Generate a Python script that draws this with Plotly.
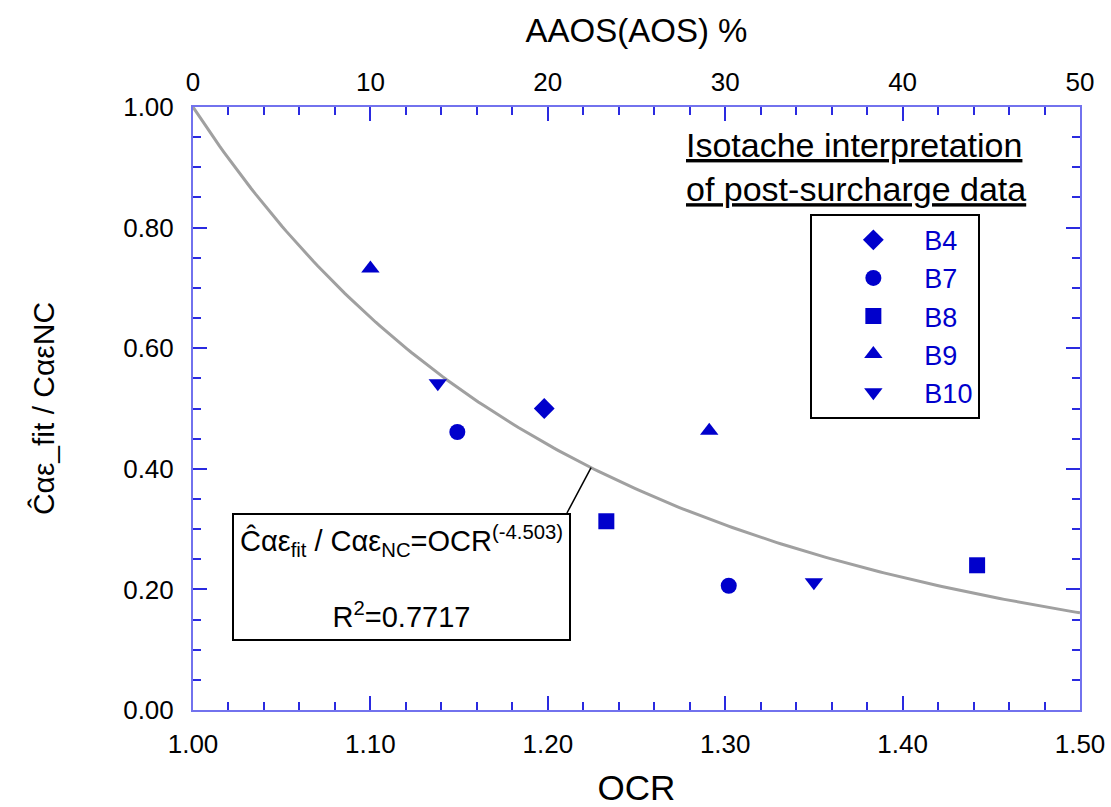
import numpy as np
import plotly.graph_objects as go

# ---- data ----
series_names = ["B4", "B7", "B8", "B9", "B10"]
series_symbols = ["diamond", "circle", "square", "triangle-up", "triangle-down"]
ocr_B4 = [1.198]
cae_B4 = [0.500]
ocr_B7 = [1.149, 1.302]
cae_B7 = [0.461, 0.206]
ocr_B8 = [1.233, 1.442]
cae_B8 = [0.313, 0.240]
ocr_B9 = [1.100, 1.291]
cae_B9 = [0.732, 0.463]
ocr_B10 = [1.138, 1.350]
cae_B10 = [0.542, 0.212]
fit_exponent = -4.503
r_squared = 0.7717
ocr_range = [1.0, 1.5]
aaos_range = [0, 50]

series_x = [ocr_B4, ocr_B7, ocr_B8, ocr_B9, ocr_B10]
series_y = [cae_B4, cae_B7, cae_B8, cae_B9, cae_B10]

BLUE = "#0000cc"
AXBLUE = "#7272ee"
TICKBLUE = "#2a2ae0"
FONT = "Liberation Sans"

fig = go.Figure()

# fitted power-law curve
fit_x = np.linspace(ocr_range[0], ocr_range[1], 200)
fit_y = fit_x ** fit_exponent
fig.add_trace(go.Scatter(x=fit_x, y=fit_y, mode="lines",
                         line=dict(color="#a0a0a0", width=3),
                         showlegend=False, hoverinfo="skip"))

for name, sym, xs, ys in zip(series_names, series_symbols, series_x, series_y):
    fig.add_trace(go.Scatter(x=xs, y=ys, mode="markers", name=name,
                             marker=dict(symbol=sym, size=16, color=BLUE,
                                         line=dict(width=0))))

# invisible trace for the top axis
fig.add_trace(go.Scatter(x=aaos_range, y=[None, None], xaxis="x2",
                         mode="markers", showlegend=False, hoverinfo="skip"))

axis_common = dict(showgrid=False, zeroline=False, showline=True,
                   linecolor=AXBLUE, linewidth=2, automargin=False,
                   ticks="inside", tickcolor=TICKBLUE, tickwidth=1.5, ticklen=14,
                   tickfont=dict(family=FONT, size=26, color="black"))

minor_common = dict(ticks="inside", ticklen=8, tickcolor=TICKBLUE, tickwidth=1.5)

fig.update_layout(
    width=1111, height=807,
    margin=dict(l=193, r=31, t=107, b=97),
    paper_bgcolor="white", plot_bgcolor="white",
    font=dict(family=FONT, color="black"),
    xaxis=dict(range=ocr_range, dtick=0.1, tickformat=".2f",
               minor=dict(dtick=0.02, **minor_common),
               ticklabelstandoff=10,
               title=dict(text="OCR", font=dict(family=FONT, size=35), standoff=18),
               **axis_common),
    xaxis2=dict(range=aaos_range, dtick=10, overlaying="x", side="top",
                minor=dict(dtick=2, **minor_common),
                ticklabelstandoff=4,
                title=dict(text="AAOS(AOS) %", font=dict(family=FONT, size=33), standoff=14),
                **axis_common),
    yaxis=dict(range=[0, 1.0], dtick=0.2, tickformat=".2f", mirror="ticks",
               minor=dict(dtick=0.05, **minor_common),
               ticklabelstandoff=12,
               title=dict(text="Ĉαε_fit / CαεNC", font=dict(family=FONT, size=30), standoff=60),
               **axis_common),
    legend=dict(x=0.696, y=0.823, xanchor="left", yanchor="top",
                bordercolor="black", borderwidth=2, bgcolor="white",
                font=dict(family=FONT, size=27, color=BLUE),
                indentation=10, itemwidth=92),
)

# title annotation
fig.add_annotation(xref="paper", yref="paper", x=0.554, y=0.972,
                   xanchor="left", yanchor="top", align="left", showarrow=False,
                   text="<u>Isotache interpretation</u><br><u>of post-surcharge data</u>",
                   font=dict(family=FONT, size=34, color="black"))

# equation box
fig.add_annotation(xref="x", yref="y", x=1.1175, y=0.2206,
                   xanchor="center", yanchor="middle", showarrow=False,
                   width=333, height=122, borderpad=1,
                   bordercolor="black", borderwidth=2, bgcolor="white",
                   align="center",
                   text=("Ĉαε<sub>fit</sub> / Cαε<sub>NC</sub>=OCR<sup>(%.3f)</sup>"
                         "<br><br>R<sup>2</sup>=%.4f" % (fit_exponent, r_squared)),
                   font=dict(family=FONT, size=29, color="black"))

# leader line from box to curve
lead_x = 1.2244
fig.add_shape(type="line", xref="x", yref="y",
              x0=1.2108, y0=0.3267, x1=lead_x, y1=lead_x ** fit_exponent,
              line=dict(color="black", width=1.5))

fig.write_html("out.html")
